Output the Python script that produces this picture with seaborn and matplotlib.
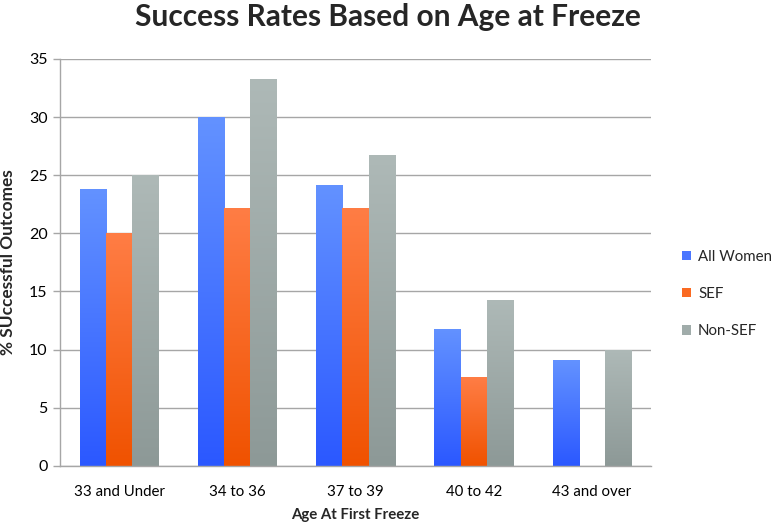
import numpy as np
import pandas as pd
import matplotlib
matplotlib.use("Agg")
import matplotlib.pyplot as plt
import seaborn as sns
from matplotlib.colors import LinearSegmentedColormap
from matplotlib.patches import Patch

categories = ["33 and Under", "34 to 36", "37 to 39", "40 to 42", "43 and over"]
series = ["All Women", "SEF", "Non-SEF"]
all_women = [23.8, 30.0, 24.2, 11.8, 9.1]
sef = [20.0, 22.2, 22.2, 7.6, 0.0]
non_sef = [25.0, 33.3, 26.7, 14.3, 10.0]

top_colors = {"All Women": "#6392ff", "SEF": "#ff7d45", "Non-SEF": "#aeb9b7"}
bot_colors = {"All Women": "#2b58ff", "SEF": "#f05200", "Non-SEF": "#8d9997"}
mid_colors = {"All Women": "#4a76ff", "SEF": "#fa6a22", "Non-SEF": "#a0acaa"}

df = pd.DataFrame({
    "Age": categories * 3,
    "Series": [s for s in series for _ in categories],
    "Value": all_women + sef + non_sef,
})

sns.set_theme(style="white")
plt.rcParams['font.family'] = ['Lato', 'DejaVu Sans']

fig = plt.figure(figsize=(7.77, 5.29), dpi=100)
ax = fig.add_axes([60/777, 1-465.8/529, (651-60)/777, (465.8-59)/529])

sns.barplot(data=df, x="Age", y="Value", hue="Series", order=categories,
            hue_order=series, palette=mid_colors, width=0.666, ax=ax,
            legend=False, saturation=1, edgecolor="none", linewidth=0)

ax.set_ylim(0, 35)
ax.set_xlim(-0.5, 4.5)
ax.set_yticks(range(0, 36, 5))
ax.yaxis.grid(True, color="#a6a6a6", linewidth=1.0)
ax.set_axisbelow(True)

# gradient fill per bar
grad = np.linspace(0, 1, 256).reshape(-1, 1)
for container, s in zip(ax.containers, series):
    cmap = LinearSegmentedColormap.from_list(s, [bot_colors[s], top_colors[s]])
    for p in container.patches:
        x, y = p.get_x(), p.get_y()
        w, h = p.get_width(), p.get_height()
        if h <= 0:
            continue
        im = ax.imshow(grad, extent=[x, x + w, y, y + h], origin="lower",
                       aspect="auto", cmap=cmap, zorder=p.get_zorder() + 0.1,
                       interpolation="bicubic")
        im.set_clip_path(p)
ax.set_xlim(-0.5, 4.5)
ax.set_ylim(0, 35)

for side in ["top", "right"]:
    ax.spines[side].set_visible(False)
for side in ["left", "bottom"]:
    ax.spines[side].set_color("#a6a6a6")
    ax.spines[side].set_linewidth(1.0)

ax.tick_params(axis="y", which="both", left=True, length=5, width=1,
               color="#a6a6a6", labelsize=11.5, pad=4, labelcolor="black")
ax.tick_params(axis="x", bottom=False, labelsize=10.8, pad=8, labelcolor="black")

ax.set_xlabel("Age At First Freeze", fontsize=10.8, fontweight="bold", labelpad=6)
ax.set_ylabel("% SUccessful Outcomes", fontsize=12.4, fontweight="bold", labelpad=9)

fig.suptitle("Success Rates Based on Age at Freeze", x=388/777, y=1-3/529,
             va="top", fontsize=21.5, fontweight="bold")

handles = [Patch(facecolor=mid_colors[s], edgecolor="none") for s in series]
leg = fig.legend(handles, series, loc="center left",
                 bbox_to_anchor=(668/777, 1-294/529), frameon=False,
                 fontsize=10.8, handlelength=0.6, handleheight=0.6,
                 handletextpad=0.5, labelspacing=1.55)

fig.savefig("out.png", dpi=100)
